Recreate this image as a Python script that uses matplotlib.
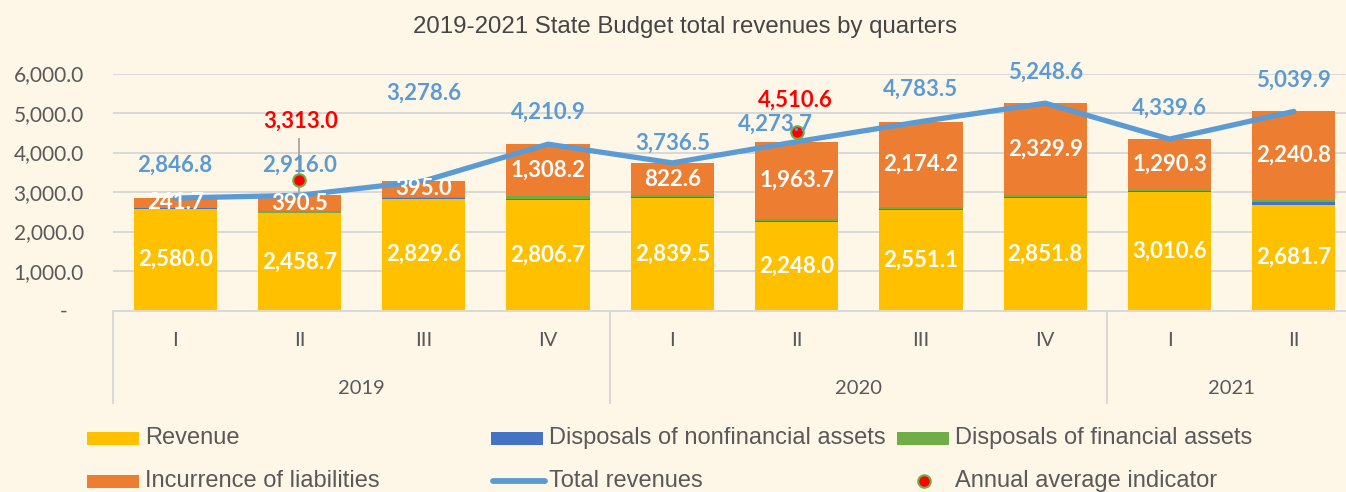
import matplotlib
matplotlib.use('Agg')
import matplotlib.pyplot as plt
import matplotlib.transforms as mtransforms
from matplotlib.patches import Rectangle
from matplotlib.lines import Line2D
from matplotlib.ticker import FuncFormatter, FixedLocator
import numpy as np

# ---------------- data ----------------
years = ['2019', '2020', '2021']
quarters = ['I', 'II', 'III', 'IV', 'I', 'II', 'III', 'IV', 'I', 'II']
year_index = [0, 0, 0, 0, 1, 1, 1, 1, 2, 2]
revenue = [2580.0, 2458.7, 2829.6, 2806.7, 2839.5, 2248.0, 2551.1, 2851.8, 3010.6, 2681.7]
disp_nonfin = [5.0, 10.0, 30.0, 20.0, 40.0, 10.0, 15.0, 15.0, 15.0, 55.0]
disp_fin = [20.1, 56.8, 24.0, 76.0, 34.4, 52.0, 43.2, 51.9, 23.7, 62.4]
liabilities = [241.7, 390.5, 395.0, 1308.2, 822.6, 1963.7, 2174.2, 2329.9, 1290.3, 2240.8]
total = [2846.8, 2916.0, 3278.6, 4210.9, 3736.5, 4273.7, 4783.5, 5248.6, 4339.6, 5039.9]
annual_avg = [np.nan, 3313.0, np.nan, np.nan, np.nan, 4510.6, np.nan, np.nan, np.nan, np.nan]
avg_err_low = [0, 440, 0, 0, 0, 0, 0, 0, 0, 0]
avg_err_high = [0, 1050, 0, 0, 0, 0, 0, 0, 0, 0]
yticks = [0, 1000, 2000, 3000, 4000, 5000, 6000]

title = '2019-2021 State Budget total revenues by quarters'
legend_labels = ['Revenue', 'Disposals of nonfinancial assets', 'Disposals of financial assets',
                 'Incurrence of liabilities', 'Total revenues', 'Annual average indicator']

# ---------------- style ----------------
W, H = 1346, 492
BG = '#FEF7E7'
C_REV = '#FFC000'
C_NONFIN = '#4472C4'
C_FIN = '#70AD47'
C_LIAB = '#ED7D31'
C_LINE = '#5B9BD5'
C_TXT = '#595959'
C_GRID = '#D9D9D9'
NUM_FONT = 'Lato'
TXT_FONT = 'Liberation Sans'
LBL_SIZE = 16

# label offsets for total line labels (pixels: dx, dy above point)
total_lbl_off = [(0, 33), (0, 30), (0, 88), (0, 32), (0, 20), (-21, 17), (0, 32), (0, 31), (0, 31), (0, 31)]
avg_lbl_off = {1: (1, 58), 5: (-1, 32)}

fig = plt.figure(figsize=(W / 100, H / 100), dpi=100)
fig.patch.set_facecolor(BG)

ax_left, ax_right, ax_bottom, ax_top = 113, 1346, 310.5, 73.5
ax = fig.add_axes([ax_left / W, 1 - ax_bottom / H, (ax_right - ax_left) / W, (ax_bottom - ax_top) / H])
ax.set_facecolor('none')

x = np.arange(len(quarters))
px_per_unit = 124.3
ax.set_xlim(-0.5, -0.5 + (ax_right - ax_left) / px_per_unit)
ax.set_ylim(0, 6000)

bw = 0.67
rev = np.array(revenue)
nf = np.array(disp_nonfin)
fi = np.array(disp_fin)
li = np.array(liabilities)
ax.bar(x, rev, bw, color=C_REV, zorder=2)
ax.bar(x, nf, bw, bottom=rev, color=C_NONFIN, zorder=2)
ax.bar(x, fi, bw, bottom=rev + nf, color=C_FIN, zorder=2)
ax.bar(x, li, bw, bottom=rev + nf + fi, color=C_LIAB, zorder=2)

ax.plot(x, total, color=C_LINE, lw=3.8, solid_capstyle='round', solid_joinstyle='round', zorder=4)

# annual average indicator
ax.errorbar(x, annual_avg, yerr=[avg_err_low, avg_err_high], fmt='none', ecolor='#A6A6A6', elinewidth=1.3, capsize=0, zorder=5)
ax.plot(x, annual_avg, 'o', color='#FF0000', markeredgecolor=C_FIN, markeredgewidth=1.5, markersize=9, zorder=6)

def fmt(v):
    return f'{v:,.1f}'

# bar labels
for i in x:
    ax.text(i, rev[i] / 2, fmt(rev[i]), ha='center', va='center', color='white',
            fontsize=LBL_SIZE, fontweight='bold', family=NUM_FONT, zorder=7)
    ax.text(i, rev[i] + nf[i] + fi[i] + li[i] / 2, fmt(li[i]), ha='center', va='center', color='white',
            fontsize=LBL_SIZE, fontweight='bold', family=NUM_FONT, zorder=7)

# total labels
for i in x:
    dx, dy = total_lbl_off[i]
    ax.annotate(fmt(total[i]), (i, total[i]), xytext=(dx, dy), textcoords='offset pixels',
                ha='center', va='center', color=C_LINE, fontsize=LBL_SIZE, fontweight='bold',
                family=NUM_FONT, zorder=8, annotation_clip=False)

for i, (dx, dy) in avg_lbl_off.items():
    ax.annotate(fmt(annual_avg[i]), (i, annual_avg[i]), xytext=(dx, dy), textcoords='offset pixels',
                ha='center', va='center', color='#FF0000', fontsize=LBL_SIZE, fontweight='bold',
                family=NUM_FONT, zorder=8, annotation_clip=False)

# y axis
ax.yaxis.set_major_locator(FixedLocator(yticks))
ax.yaxis.set_major_formatter(FuncFormatter(lambda v, p: '-   ' if v == 0 else f'{v:,.1f}'))
ax.tick_params(axis='y', length=0, pad=21, labelsize=15, labelcolor=C_TXT)
for lab in ax.get_yticklabels():
    lab.set_family(NUM_FONT)
ax.yaxis.grid(True, color=C_GRID, lw=1.4)
ax.set_axisbelow(True)
for s in ['left', 'right', 'top']:
    ax.spines[s].set_visible(False)
ax.spines['bottom'].set_color(C_GRID)
ax.spines['bottom'].set_linewidth(1.4)
ax.spines['bottom'].set_zorder(3)

# x axis (multi-level)
ax.set_xticks([])
blend = mtransforms.blended_transform_factory(ax.transData, fig.transFigure)
for i in x:
    ax.text(i, 1 - 341 / H, quarters[i], transform=blend, ha='center', va='center',
            fontsize=14.5, color=C_TXT, family=NUM_FONT)
yi = np.array(year_index)
for k, yr in enumerate(years):
    idx = x[yi == k]
    lo = idx.min() - 0.5
    hi = min(idx.max() + 0.5, ax.get_xlim()[1] + 0.08)
    ax.text((lo + hi) / 2, 1 - 388 / H, yr, transform=blend, ha='center', va='center',
            fontsize=14.5, color=C_TXT, family=NUM_FONT)
    ax.plot([lo, lo], [1 - ax_bottom / H, 1 - 403 / H], transform=blend, color=C_GRID, lw=1.4, clip_on=False)

# title
fig.text(685 / W, 1 - 27 / H, title, ha='center', va='center', fontsize=17.3, color='#454545', family=TXT_FONT)

# legend (manual)
rows = [438, 481]
cols = [87, 491, 897]
pw, ph = 52, 13
def fx(px):
    return px / W
def fy(py):
    return 1 - py / H
items = [('patch', C_REV), ('patch', C_NONFIN), ('patch', C_FIN),
         ('patch', C_LIAB), ('line', C_LINE), ('dot', None)]
for k, (kind, col) in enumerate(items):
    r, c = divmod(k, 3)
    cx, cy = cols[c], rows[r]
    if kind == 'patch':
        fig.add_artist(Rectangle((fx(cx), fy(cy + ph / 2)), pw / W, ph / H, transform=fig.transFigure,
                                 facecolor=col, edgecolor='none'))
    elif kind == 'line':
        fig.add_artist(Line2D([fx(cx + 2), fx(cx + pw + 2)], [fy(cy), fy(cy)], transform=fig.transFigure,
                              color=col, lw=4.2, solid_capstyle='round'))
    else:
        fig.add_artist(Line2D([fx(cx + 27)], [fy(cy)], transform=fig.transFigure, marker='o', ls='none',
                              color='#FF0000', markeredgecolor=C_FIN, markeredgewidth=1.5, markersize=9))
    tx = cx + pw + 6
    fig.text(fx(tx), fy(cy), legend_labels[k], ha='left', va='center', fontsize=17,
             color=C_TXT, family=TXT_FONT)

fig.savefig('out.png', dpi=100, facecolor=BG)
